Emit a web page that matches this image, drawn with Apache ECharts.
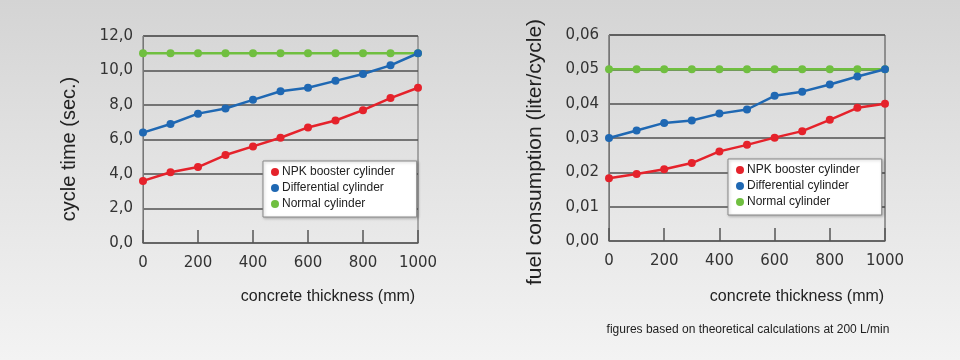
<!DOCTYPE html>
<html>
<head>
<meta charset="utf-8">
<script src="https://cdn.jsdelivr.net/npm/echarts@6/dist/echarts.min.js"></script>
<style>
html,body{margin:0;padding:0;}
body{width:960px;height:360px;background:linear-gradient(to bottom,#d4d4d4 0%,#e4e4e4 50%,#f3f3f3 100%);}
#c{width:960px;height:360px;}
</style>
</head>
<body>
<div id="c"></div>
<script>
// ---- data ----
var thickness = [0, 100, 200, 300, 400, 500, 600, 700, 800, 900, 1000];
var seriesNames = ['NPK booster cylinder', 'Differential cylinder', 'Normal cylinder'];
var cycleNPK = [3.6, 4.1, 4.4, 5.1, 5.6, 6.1, 6.7, 7.1, 7.7, 8.4, 9.0];
var cycleDiff = [6.4, 6.9, 7.5, 7.8, 8.3, 8.8, 9.0, 9.4, 9.8, 10.3, 11.0];
var cycleNormal = [11.0, 11.0, 11.0, 11.0, 11.0, 11.0, 11.0, 11.0, 11.0, 11.0, 11.0];
var fuelNPK = [0.0183, 0.0195, 0.0209, 0.0227, 0.0261, 0.0280, 0.0301, 0.0320, 0.0353, 0.0388, 0.0400];
var fuelDiff = [0.0300, 0.0322, 0.0344, 0.0351, 0.0371, 0.0383, 0.0423, 0.0435, 0.0456, 0.0479, 0.0500];
var fuelNormal = [0.05, 0.05, 0.05, 0.05, 0.05, 0.05, 0.05, 0.05, 0.05, 0.05, 0.05];
var yNameLeft = 'cycle time (sec.)';
var yNameRight = 'fuel consumption (liter/cycle)';
var xName = 'concrete thickness (mm)';
var footnote = 'figures based on theoretical calculations at 200 L/min';

var colors = ['#e5222b', '#1f68b3', '#70bf40'];

function pairs(vals){ return thickness.map(function(x,i){ return [x, vals[i]]; }); }

var chart = echarts.init(document.getElementById('c'), null, {renderer:'canvas'});

function xAxisCfg(gi){
  return {
    type:'value', gridIndex:gi, min:0, max:1000, interval:200,
    axisLine:{show:true, lineStyle:{color:'#666', width:1.5}},
    axisTick:{show:true, inside:true, length:13, lineStyle:{color:'#555', width:1.5}},
    axisLabel:{color:'#333', fontSize:15, fontFamily:'DejaVu Sans', margin:13,
      formatter:function(v){ return String(v); }},
    splitLine:{show:false}
  };
}
function yAxisCfg(gi, max, interval, dec){
  return {
    type:'value', gridIndex:gi, min:0, max:max, interval:interval,
    axisLine:{show:true, lineStyle:{color:'#777', width:1}},
    axisTick:{show:false},
    axisLabel:{color:'#333', fontSize:15, fontFamily:'DejaVu Sans', margin:10,
      formatter:function(v){ return v.toFixed(dec).replace('.', ','); }},
    splitLine:{show:true, lineStyle:{color:'#505050', width:1.6}}
  };
}
function lineSeries(name, data, ci, gi, z){
  return {
    name:name, type:'line', xAxisIndex:gi, yAxisIndex:gi, data:pairs(data),
    symbol:'circle', symbolSize:8, z:z, animation:false,
    lineStyle:{color:colors[ci], width:2.5},
    itemStyle:{color:colors[ci]}
  };
}
function legendCfg(left, top){
  return {
    left:left, top:top, orient:'vertical', icon:'circle',
    itemWidth:8, itemHeight:8, itemGap:4,
    padding:[5,22,7,8],
    backgroundColor:'#fff', borderColor:'#888', borderWidth:1,
    shadowColor:'rgba(0,0,0,0.25)', shadowBlur:3, shadowOffsetX:1, shadowOffsetY:1,
    textStyle:{color:'#222', fontSize:12, fontFamily:'Liberation Sans', padding:[0,0,0,-2]},
    data:seriesNames, selectedMode:false
  };
}

var option = {
  animation:false,
  backgroundColor:'transparent',
  grid:[
    {left:143, top:36, width:275, height:207, show:true, borderColor:'#666', borderWidth:1, backgroundColor:'transparent'},
    {left:609, top:35, width:276, height:206, show:true, borderColor:'#444', borderWidth:1, backgroundColor:'transparent'}
  ],
  xAxis:[xAxisCfg(0), xAxisCfg(1)],
  yAxis:[yAxisCfg(0, 12, 2, 1), yAxisCfg(1, 0.06, 0.01, 2)],
  legend:[legendCfg(263, 161), legendCfg(728, 159)],
  series:[
    lineSeries(seriesNames[2], cycleNormal, 2, 0, 2),
    lineSeries(seriesNames[0], cycleNPK, 0, 0, 3),
    lineSeries(seriesNames[1], cycleDiff, 1, 0, 4),
    lineSeries(seriesNames[2], fuelNormal, 2, 1, 2),
    lineSeries(seriesNames[0], fuelNPK, 0, 1, 3),
    lineSeries(seriesNames[1], fuelDiff, 1, 1, 4)
  ],
  graphic:[
    {type:'text', x:69, y:149, rotation:Math.PI/2,
      style:{text:yNameLeft, fill:'#222', font:'20px "Liberation Sans"', textAlign:'center', textVerticalAlign:'middle'}},
    {type:'text', x:535, y:152, rotation:Math.PI/2,
      style:{text:yNameRight, fill:'#222', font:'21px "Liberation Sans"', textAlign:'center', textVerticalAlign:'middle'}},
    {type:'text', x:328, y:297,
      style:{text:xName, fill:'#222', font:'16px "Liberation Sans"', textAlign:'center', textVerticalAlign:'middle'}},
    {type:'text', x:797, y:297,
      style:{text:xName, fill:'#222', font:'16px "Liberation Sans"', textAlign:'center', textVerticalAlign:'middle'}},
    {type:'text', x:748, y:330,
      style:{text:footnote, fill:'#222', font:'12px "Liberation Sans"', textAlign:'center', textVerticalAlign:'middle'}}
  ]
};
chart.setOption(option);
</script>
</body>
</html>
